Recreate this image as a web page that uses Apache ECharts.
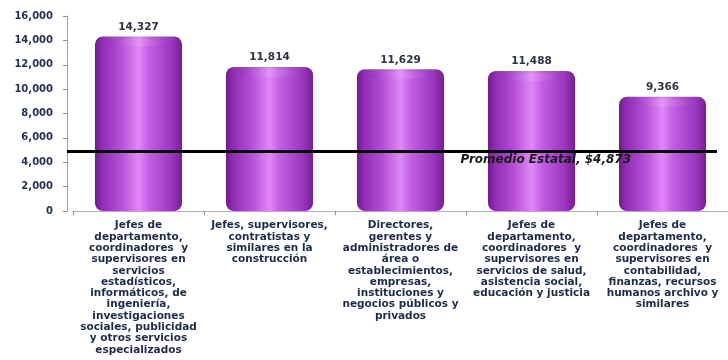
<!DOCTYPE html>
<html>
<head>
<meta charset="utf-8">
<script src="https://cdn.jsdelivr.net/npm/echarts@6/dist/echarts.min.js"></script>
<style>
  html, body { margin: 0; padding: 0; background: #ffffff; }
  #chart { width: 728px; height: 360px; }
</style>
</head>
<body>
<div id="chart"></div>
<script>
// Ocupaciones con mayor ingreso promedio mensual
const categories = [
  'Jefes de\ndepartamento,\ncoordinadores  y\nsupervisores en\nservicios\nestadísticos,\ninformáticos, de\ningeniería,\ninvestigaciones\nsociales, publicidad\ny otros servicios\nespecializados',
  'Jefes, supervisores,\ncontratistas y\nsimilares en la\nconstrucción',
  'Directores,\ngerentes y\nadministradores de\nárea o\nestablecimientos,\nempresas,\ninstituciones y\nnegocios públicos y\nprivados',
  'Jefes de\ndepartamento,\ncoordinadores  y\nsupervisores en\nservicios de salud,\nasistencia social,\neducación y justicia',
  'Jefes de\ndepartamento,\ncoordinadores  y\nsupervisores en\ncontabilidad,\nfinanzas, recursos\nhumanos archivo y\nsimilares'
];
const ingresos = [14327, 11814, 11629, 11488, 9366];
const promedioEstatal = 4873;
const yTicks = { min: 0, max: 16000, interval: 2000 };

const fontFamily = '"DejaVu Sans", Verdana, sans-serif';
const fmt = v => v.toLocaleString('en-US');

const bodyGradient = new echarts.graphic.LinearGradient(0, 0, 1, 0, [
  { offset: 0, color: '#6e1a8c' },
  { offset: 0.08, color: '#8f2db3' },
  { offset: 0.3, color: '#b64fd8' },
  { offset: 0.5, color: '#df88f6' },
  { offset: 0.62, color: '#c35ee4' },
  { offset: 0.88, color: '#9a36bf' },
  { offset: 1, color: '#74208f' }
]);
const capGradient = new echarts.graphic.LinearGradient(0, 0, 1, 0, [
  { offset: 0, color: '#8a2db0' },
  { offset: 0.5, color: '#e7a0f8' },
  { offset: 1, color: '#9b3dc0' }
]);

const chart = echarts.init(document.getElementById('chart'), null, { renderer: 'canvas' });
chart.setOption({
  backgroundColor: '#ffffff',
  animation: false,
  grid: { left: 73, right: -5, top: 16, bottom: 149, containLabel: false },
  xAxis: {
    type: 'category',
    data: categories,
    axisLine: { show: true, lineStyle: { color: '#b0b0b0', width: 1 } },
    axisTick: { show: true, length: 4, lineStyle: { color: '#909090' } },
    axisLabel: {
      interval: 0,
      margin: 9,
      fontFamily,
      fontSize: 10.5,
      fontWeight: 'bold',
      lineHeight: 11.3,
      color: '#1d2b4a',
      align: 'center'
    }
  },
  yAxis: {
    type: 'value',
    offset: 6,
    min: yTicks.min,
    max: yTicks.max,
    interval: yTicks.interval,
    axisLine: { show: true, lineStyle: { color: '#a0a0a0' } },
    axisTick: { show: true, length: 4, lineStyle: { color: '#909090' } },
    splitLine: { show: false },
    axisLabel: {
      margin: 14,
      fontFamily,
      fontSize: 10,
      fontWeight: 'bold',
      color: '#1f2f50',
      formatter: v => fmt(v)
    }
  },
  series: [
    {
      type: 'bar',
      data: ingresos,
      barWidth: '66.5%',
      z: 2,
      itemStyle: { color: bodyGradient, borderRadius: [8, 8, 8, 8] },
      label: {
        show: true,
        position: 'top',
        distance: 4,
        fontFamily,
        fontSize: 10.5,
        fontWeight: 'bold',
        color: '#2e3345',
        formatter: p => fmt(p.value)
      },
      markLine: {
        silent: true,
        symbol: 'none',
        z: 5,
        lineStyle: { color: '#000000', width: 3, type: 'solid' },
        label: {
          show: true,
          position: 'insideEndBottom',
          distance: 2,
          padding: [0, 84, 0, 0],
          fontFamily,
          fontSize: 12,
          fontWeight: 'bold',
          fontStyle: 'italic',
          color: '#1a1a1a',
          formatter: 'Promedio Estatal, $' + fmt(promedioEstatal)
        },
        data: [[
          { yAxis: promedioEstatal, x: 67 },
          { yAxis: promedioEstatal, x: 717 }
        ]]
      }
    },
    {
      type: 'pictorialBar',
      data: ingresos,
      symbol: 'circle',
      symbolSize: ['66.5%', 8],
      symbolPosition: 'end',
      symbolOffset: [0, 2],
      z: 3,
      silent: true,
      itemStyle: { color: capGradient, opacity: 0.55 }
    }
  ]
});
</script>
</body>
</html>
